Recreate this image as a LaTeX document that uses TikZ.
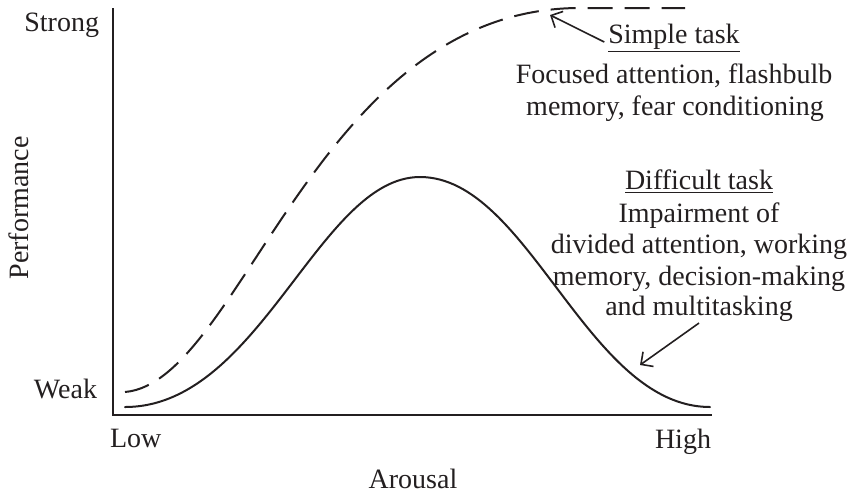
\documentclass[tikz,border=0pt]{standalone}
\usepackage{fontspec}
\setmainfont{Liberation Serif}
\usetikzlibrary{arrows.meta}
\definecolor{ink}{RGB}{35,31,32}
\tikzset{
  lbl/.style={inner sep=0pt, outer sep=0pt, text=ink, font=\fontsize{14}{16}\selectfont},
  curve/.style={draw=ink, line width=1pt, line cap=round, line join=round},
  dashcurve/.style={curve, line cap=butt, dash pattern=on 12.5pt off 6pt},
  axis/.style={draw=ink, line width=1.1pt},
  pointer/.style={draw=ink, line width=0.8pt, -{Straight Barb[length=4.5pt, width=9pt, line width=0.8pt]}}
}
\begin{document}
\begin{tikzpicture}[x=0.5pt, y=-0.5pt]
\useasboundingbox (0,0) rectangle (851,494);

% axes
\coordinate (ytop) at (113,8);
\coordinate (orig) at (113,415);
\coordinate (xend) at (712,415);
\draw[axis] (ytop) -- (orig) -- (xend);

% axis labels
\node[lbl, anchor=base east] (strong) at (99,31) {Strong};
\node[lbl, anchor=base east] (weak) at (97,398) {Weak};
\node[lbl, anchor=base west] (low) at (110,447) {Low};
\node[lbl, anchor=base east] (high) at (711,448) {High};
\node[lbl, anchor=base] (arousal) at (413,488) {Arousal};
\node[lbl, anchor=base, rotate=90] (perf) at (28,208) {Performance};

% difficult task (solid)
\coordinate (sA) at (125,407);
\coordinate (sP) at (420,177);
\coordinate (sB) at (710,407);
\draw[curve] (sA) .. controls (260,407) and (319,177) .. (sP)
                  .. controls (529,177) and (587,407) .. (sB);

% simple task (dashed)
\coordinate (dA) at (125,392);
\coordinate (dP) at (580,8);
\coordinate (dB) at (685,8);
\draw[dashcurve] (dA) .. controls (241,382) and (316,8) .. (dP) -- (dB);

% simple task text
\node[lbl, anchor=base] (simple) at (674,43) {\underline{Simple task}};
\node[lbl, anchor=base] (simpleA) at (674,83) {Focused attention, flashbulb};
\node[lbl, anchor=base] (simpleB) at (675,115) {memory, fear conditioning};

% difficult task text
\node[lbl, anchor=base] (diff) at (699,189) {\underline{Difficult task}};
\node[lbl, anchor=base] (diffA) at (699,222) {Impairment of};
\node[lbl, anchor=base] (diffB) at (699,253) {divided attention, working};
\node[lbl, anchor=base] (diffC) at (699,285) {memory, decision-making};
\node[lbl, anchor=base] (diffD) at (699,315) {and multitasking};

% pointers
\coordinate (simpleTip) at (550,15);
\coordinate (diffTip) at (640,365);
\draw[pointer] (simple.base west) ++(-4,-1) coordinate (simpleStart) -- (simpleTip);
\draw[pointer] (diffD.south) ++(0,2) coordinate (diffStart) -- (diffTip);
\end{tikzpicture}
\end{document}
